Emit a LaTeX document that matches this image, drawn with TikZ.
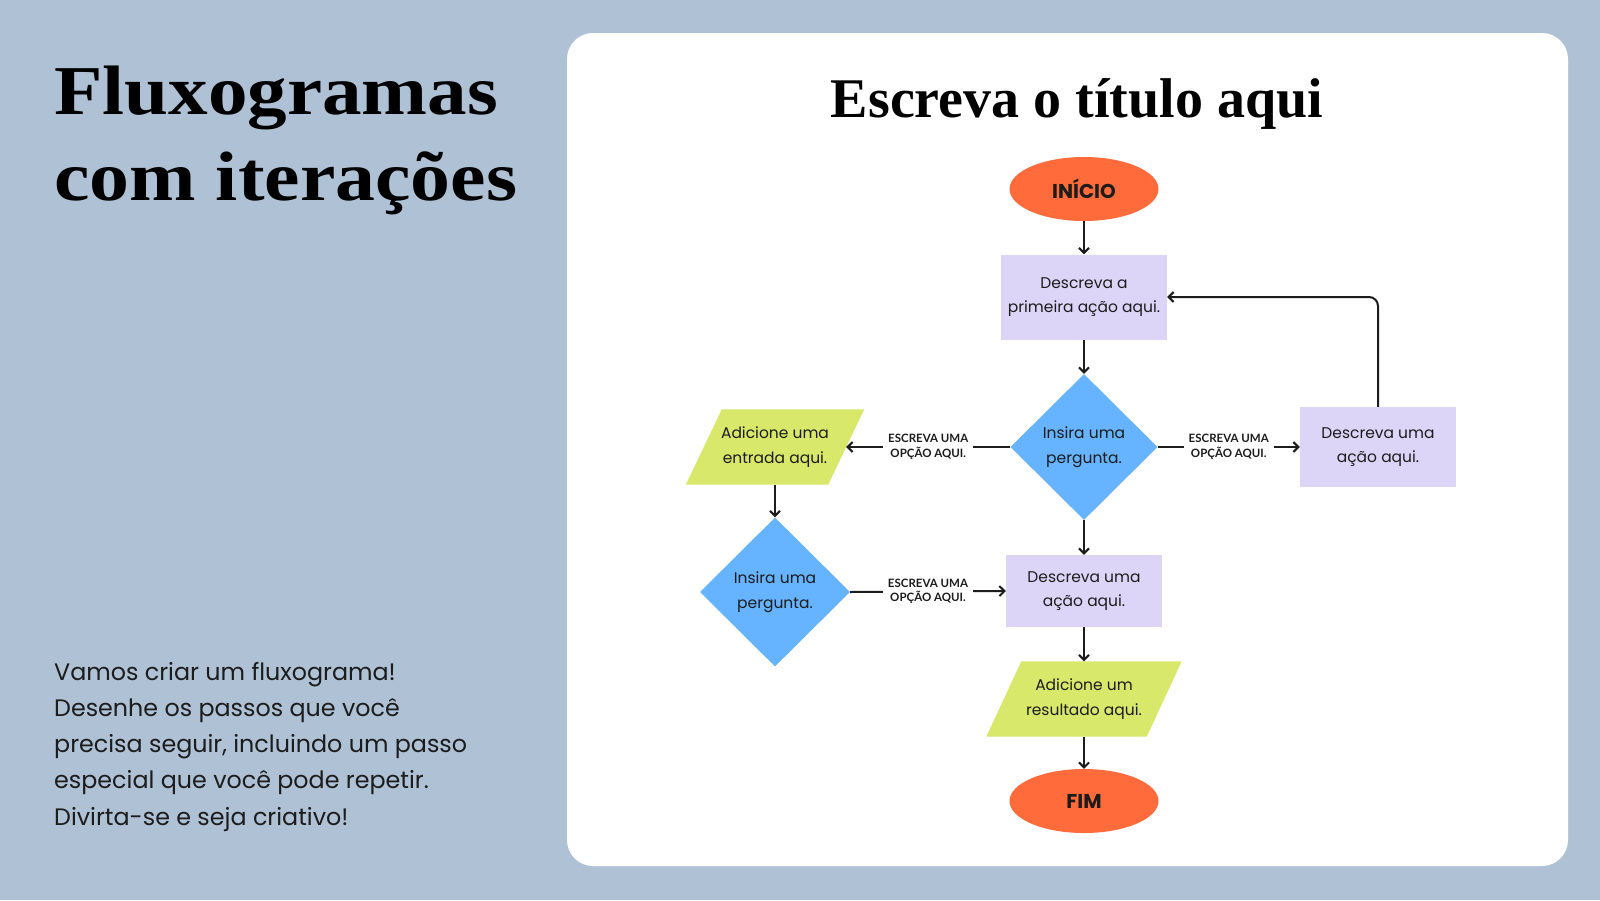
\documentclass[tikz,border=0pt]{standalone}
\usepackage{fontspec}
\setmainfont{Poppins}
\newfontfamily\labelfont{Lato}
\newfontfamily\headfont{Liberation Serif}
\usetikzlibrary{shapes.geometric,arrows.meta,backgrounds}
\definecolor{bgblue}{HTML}{AFC1D5}
\definecolor{termc}{HTML}{FF6B3A}
\definecolor{procc}{HTML}{DDD5F8}
\definecolor{decc}{HTML}{66B3FF}
\definecolor{ioc}{HTML}{D7E86B}
\definecolor{ink}{HTML}{1C1C1C}
\tikzset{
  term/.style={ellipse, fill=termc, minimum width=149pt, minimum height=64pt, inner sep=0pt,
    font=\fontsize{20}{24}\selectfont\bfseries, text=ink},
  proc/.style={rectangle, fill=procc, inner sep=0pt, align=center,
    font=\fontsize{15.5}{24.5}\selectfont, text=ink},
  dec/.style={diamond, fill=decc, inner sep=0pt, align=center,
    font=\fontsize{15.5}{24.5}\selectfont, text=ink},
  iotext/.style={rectangle, inner sep=0pt, align=center, minimum height=75pt,
    font=\fontsize{15.5}{24.5}\selectfont, text=ink},
  arr/.style={draw=ink, line width=2pt, -{Straight Barb[length=5pt,width=10pt,line width=2pt]}},
  lbl/.style={fill=white, inner xsep=5pt, inner ysep=2pt, align=center,
    font=\labelfont\fontsize{11.5}{14.5}\selectfont\bfseries, text=ink},
  bodyline/.style={anchor=base west, inner sep=0pt, font=\fontsize{23.8}{36}\selectfont, text=ink},
  headline/.style={anchor=base west, inner sep=0pt, text=black}
}
\begin{document}
\begin{tikzpicture}[x=1pt,y=-1pt]
\useasboundingbox (0,0) rectangle (1600,900);
\begin{scope}[on background layer]
  \fill[bgblue] (0,0) rectangle (1600,900);
  \fill[white, rounded corners=26pt] (567,33) rectangle (1568,866);
\end{scope}

% left texts
\node[headline] (h1) at (54,114) {\headfont\bfseries\fontsize{70}{86}\selectfont\scalebox{1.13}[1]{Fluxogramas}};
\node[headline] (h2) at (54,200) {\headfont\bfseries\fontsize{70}{86}\selectfont\scalebox{1.14}[1]{com iterações}};

\node[bodyline] (b1) at (54,680) {Vamos criar um fluxograma!};
\node[bodyline] (b2) at (54,716) {Desenhe os passos que você};
\node[bodyline] (b3) at (54,752.5) {precisa seguir, incluindo um passo};
\node[bodyline] (b4) at (54,788.5) {especial que você pode repetir.};
\node[bodyline] (b5) at (54,825) {Divirta-se e seja criativo!};

% title
\node[anchor=base, inner sep=0pt, text=black] (title) at (1077,117)
  {\headfont\bfseries\fontsize{56}{60}\selectfont Escreva o título aqui};

% flowchart nodes
\node[term] (ini) at (1084,189) {INÍCIO};
\node[proc, minimum width=166pt, minimum height=85pt] (p1) at (1084,297) {Descreva a\\primeira ação aqui.};
\node[dec, minimum width=147pt, minimum height=146pt] (d1) at (1084,447) {Insira uma\\pergunta.};
\node[proc, minimum width=156pt, minimum height=80pt] (pr) at (1378,447) {Descreva uma\\ação aqui.};
\node[iotext, minimum width=142pt] (in1) at (775,447) {Adicione uma\\entrada aqui.};
\node[dec, minimum width=150pt, minimum height=149pt] (d2) at (775,592) {Insira uma\\pergunta.};
\node[proc, minimum width=156pt, minimum height=72pt] (pm) at (1084,591) {Descreva uma\\ação aqui.};
\node[iotext, minimum width=160pt] (res) at (1084,699) {Adicione um\\resultado aqui.};
\node[term] (fim) at (1084,801) {FIM};

% parallelogram shapes
\begin{scope}[on background layer]
  \fill[ioc] ([xshift=18pt]in1.north west) -- ([xshift=18pt]in1.north east)
     -- ([xshift=-18pt]in1.south east) -- ([xshift=-18pt]in1.south west) -- cycle;
  \fill[ioc] ([xshift=17.5pt]res.north west) -- ([xshift=17.5pt]res.north east)
     -- ([xshift=-17.5pt]res.south east) -- ([xshift=-17.5pt]res.south west) -- cycle;
\end{scope}

% connectors
\draw[arr] (ini) -- (p1);
\draw[arr] (p1) -- (d1);
\draw[arr] (d1.west) -- node[lbl] (l1) {ESCREVA UMA\\OPÇÃO AQUI.} (in1.east);
\draw[arr] (d1.east) -- node[lbl] (l2) {ESCREVA UMA\\OPÇÃO AQUI.} (pr.west);
\draw[arr, rounded corners=9pt] (pr.north) |- (p1.east);
\draw[arr] (in1.south) -- (d2.north);
\draw[arr] (d2.east) -- node[lbl] (l3) {ESCREVA UMA\\OPÇÃO AQUI.} (pm.west);
\draw[arr] (d1.south) -- (pm.north);
\draw[arr] (pm.south) -- (res.north);
\draw[arr] (res.south) -- (fim.north);
\end{tikzpicture}
\end{document}
